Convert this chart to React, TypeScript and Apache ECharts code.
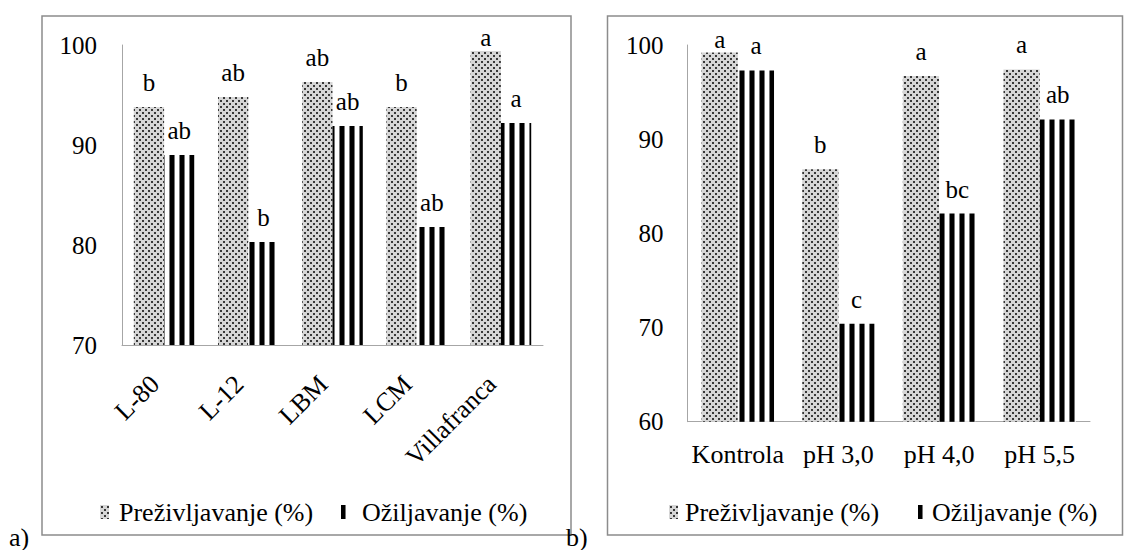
import React, { useEffect, useRef } from "react";
import * as echarts from "echarts";

const leftCategories = ["L-80", "L-12", "LBM", "LCM", "Villafranca"];
const leftSurvival = [93.8, 94.8, 96.3, 93.8, 99.4];
const leftRooting = [89.0, 80.3, 91.9, 81.8, 92.2];
const leftSurvivalLetters = ["b", "ab", "ab", "b", "a"];
const leftRootingLetters = ["ab", "b", "ab", "ab", "a"];
const leftTicks = { min: 70, max: 100, interval: 10 };

const rightCategories = ["Kontrola", "pH 3,0", "pH 4,0", "pH 5,5"];
const rightSurvival = [99.2, 86.8, 96.7, 97.4];
const rightRooting = [97.3, 70.4, 82.1, 92.1];
const rightSurvivalLetters = ["a", "b", "a", "a"];
const rightRootingLetters = ["a", "c", "bc", "ab"];
const rightTicks = { min: 60, max: 100, interval: 10 };

const SURVIVAL = "Preživljavanje (%)";
const ROOTING = "Ožiljavanje (%)";
const FONT = "Liberation Serif";

function makeDots() {
  const c = document.createElement("canvas");
  c.width = 6;
  c.height = 6;
  const g = c.getContext("2d")!;
  g.fillStyle = "#d6d6d6";
  g.fillRect(0, 0, 6, 6);
  g.fillStyle = "#383838";
  g.fillRect(1, 1, 2, 2);
  g.fillRect(4, 4, 2, 2);
  return c;
}

function makeStripes() {
  const c = document.createElement("canvas");
  c.width = 10;
  c.height = 4;
  const g = c.getContext("2d")!;
  g.fillStyle = "#ffffff";
  g.fillRect(0, 0, 10, 4);
  g.fillStyle = "#000000";
  g.fillRect(0, 0, 4, 4);
  g.fillStyle = "#777777";
  g.fillRect(4, 0, 1, 4);
  g.fillRect(9, 0, 1, 4);
  return c;
}

export default function App() {
  const ref = useRef<HTMLDivElement>(null);
  useEffect(() => {
    if (!ref.current) return;
    const chart = echarts.init(ref.current, undefined, { renderer: "svg" });
    const dots = { image: makeDots(), repeat: "repeat" } as any;
    const stripes = { image: makeStripes(), repeat: "repeat" } as any;

    const withLabels = (vals: number[], letters: string[]) =>
      vals.map((v, i) => ({
        value: v,
        label: { formatter: letters[i], distance: v > 99 ? 1 : 12 },
      }));

    const labelStyle = {
      show: true,
      position: "top",
      color: "#000",
      fontFamily: FONT,
      fontSize: 25,
    };

    const axisLine = { show: true, lineStyle: { color: "#a6a6a6", width: 1 } };

    const yAxisBase = (t: { min: number; max: number; interval: number }, gridIndex: number, margin: number) => ({
      type: "value",
      gridIndex,
      min: t.min,
      max: t.max,
      interval: t.interval,
      axisLine,
      axisTick: { show: false },
      splitLine: { show: false },
      axisLabel: { color: "#000", fontFamily: FONT, fontSize: 25, margin },
    });

    const legendBase = (left: number, name: string, pad: number) => ({
      left,
      top: 494,
      data: [name],
      icon: "rect",
      itemWidth: 9,
      itemHeight: 14,
      selectedMode: false,
      textStyle: { color: "#000", fontFamily: FONT, fontSize: 26, padding: [0, 0, 0, pad] },
    });

    chart.setOption({
      animation: false,
      backgroundColor: "#fff",
      textStyle: { fontFamily: FONT },
      grid: [
        { left: 122, top: 45, width: 421, height: 300 },
        { left: 687.5, top: 45, width: 402.5, height: 376.7 },
      ],
      xAxis: [
        {
          type: "category",
          gridIndex: 0,
          data: leftCategories,
          axisLine,
          axisTick: { show: false },
          axisLabel: {
            color: "#000",
            fontFamily: FONT,
            fontSize: 26,
            rotate: 45,
            margin: 44,
            interval: 0,
            verticalAlign: "bottom",
          },
        },
        {
          type: "category",
          gridIndex: 1,
          data: rightCategories,
          axisLine,
          axisTick: { show: false },
          axisLabel: { color: "#000", fontFamily: FONT, fontSize: 26, margin: 20, interval: 0 },
        },
      ],
      yAxis: [yAxisBase(leftTicks, 0, 25), yAxisBase(rightTicks, 1, 24)],
      legend: [
        legendBase(95, SURVIVAL, 5),
        legendBase(336, ROOTING, 7),
        legendBase(664, SURVIVAL, 2),
        legendBase(913, ROOTING, 0),
      ],
      series: [
        {
          name: SURVIVAL,
          type: "bar",
          xAxisIndex: 0,
          yAxisIndex: 0,
          barWidth: "36%",
          barGap: "0%",
          itemStyle: { color: dots },
          label: labelStyle,
          data: withLabels(leftSurvival, leftSurvivalLetters),
        },
        {
          name: ROOTING,
          type: "bar",
          xAxisIndex: 0,
          yAxisIndex: 0,
          barWidth: "36%",
          barGap: "0%",
          itemStyle: { color: stripes },
          label: labelStyle,
          data: withLabels(leftRooting, leftRootingLetters),
        },
        {
          name: SURVIVAL,
          type: "bar",
          xAxisIndex: 1,
          yAxisIndex: 1,
          barWidth: "36%",
          barGap: "0%",
          itemStyle: { color: dots },
          label: labelStyle,
          data: withLabels(rightSurvival, rightSurvivalLetters),
        },
        {
          name: ROOTING,
          type: "bar",
          xAxisIndex: 1,
          yAxisIndex: 1,
          barWidth: "36%",
          barGap: "0%",
          itemStyle: { color: stripes },
          label: labelStyle,
          data: withLabels(rightRooting, rightRootingLetters),
        },
      ],
      graphic: [
        {
          type: "rect",
          shape: { x: 42, y: 16, width: 529, height: 519 },
          style: { fill: "none", stroke: "#8c8c8c", lineWidth: 1.5 },
          silent: true,
        },
        {
          type: "rect",
          shape: { x: 607.5, y: 16, width: 515, height: 519 },
          style: { fill: "none", stroke: "#8c8c8c", lineWidth: 1.5 },
          silent: true,
        },
        {
          type: "text",
          x: 9,
          y: 537,
          style: { text: "a)", fontFamily: FONT, fontSize: 26, fill: "#000", verticalAlign: "middle" },
        },
        {
          type: "text",
          x: 566,
          y: 537,
          style: { text: "b)", fontFamily: FONT, fontSize: 26, fill: "#000", verticalAlign: "middle" },
        },
      ],
    });
    return () => chart.dispose();
  }, []);
  return (
    <div
      ref={ref}
      style={{ position: "absolute", left: 0, top: 0, width: 1124, height: 550 }}
    />
  );
}
